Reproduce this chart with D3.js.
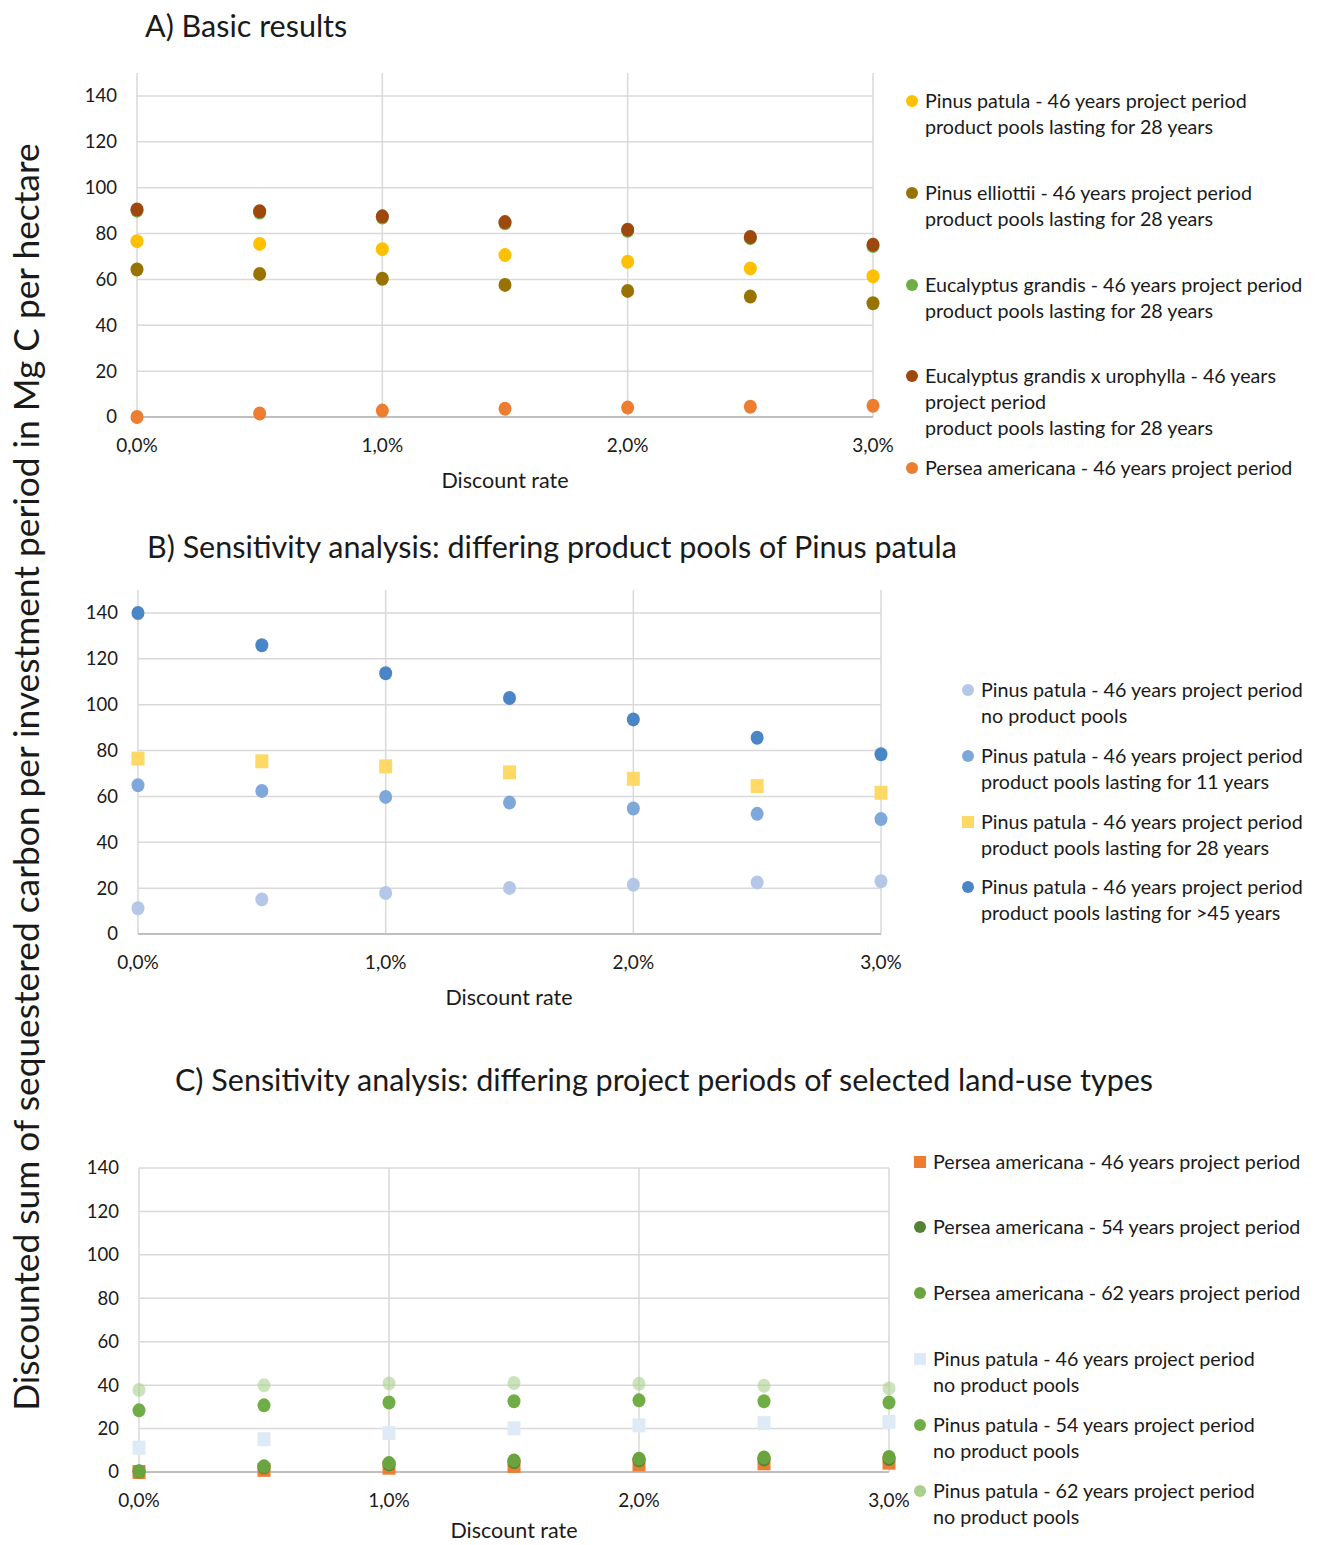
<!DOCTYPE html>
<html><head><meta charset="utf-8">
<script src="https://cdn.jsdelivr.net/npm/d3@7"></script>
<style>
body{margin:0;background:#fff;}
svg text{font-family:Lato,"Open Sans",sans-serif;fill:#1a1a1a;}
</style></head>
<body><svg id="c" width="1317" height="1545"></svg>
<script>
// ---------- DATA ----------
const rates = [0, 0.5, 1, 1.5, 2, 2.5, 3];
const xTicks = [0, 1, 2, 3];
const yTicks = [0, 20, 40, 60, 80, 100, 120, 140];

// Panel A
const aPinusPatula28   = [76.7, 75.5, 73.2, 70.6, 67.7, 64.8, 61.4];
const aPinusElliottii  = [64.3, 62.4, 60.3, 57.6, 55.0, 52.5, 49.6];
const aEucGrandis      = [90.0, 89.2, 87.0, 84.5, 81.2, 78.0, 74.6];
const aEucGrandisUro   = [90.5, 89.7, 87.5, 85.0, 81.7, 78.5, 75.1];
const aPersea46        = [0.0, 1.5, 2.8, 3.6, 4.1, 4.5, 4.9];

// Panel B
const bNoPools   = [11.2, 15.1, 17.9, 20.1, 21.5, 22.5, 23.0];
const bPools11   = [64.9, 62.4, 59.8, 57.3, 54.7, 52.4, 50.1];
const bPools28   = [76.5, 75.3, 73.1, 70.5, 67.7, 64.5, 61.6];
const bPools45   = [140.0, 125.9, 113.7, 102.9, 93.6, 85.6, 78.4];

// Panel C
const cPersea46  = [0.0, 1.0, 2.0, 2.8, 3.5, 4.0, 4.3];
const cPersea54  = [0.2, 2.2, 3.6, 4.6, 5.4, 5.8, 6.0];
const cPersea62  = [0.3, 2.6, 4.1, 5.3, 6.1, 6.7, 6.9];
const cPinus46   = [11.2, 15.1, 17.9, 20.1, 21.5, 22.5, 23.0];
const cPinus54   = [28.4, 30.7, 32.0, 32.6, 33.0, 32.6, 32.0];
const cPinus62   = [37.8, 39.9, 40.8, 41.0, 40.6, 39.7, 38.5];

const titles = [
  "A) Basic results",
  "B) Sensitivity analysis: differing product pools of Pinus patula",
  "C) Sensitivity analysis: differing project periods of selected land-use types"
];
const xLabel = "Discount rate";
const yLabel = "Discounted sum of sequestered carbon per investment period in Mg C per hectare";

const seriesA = [
  {name:["Pinus patula - 46 years project period","product pools lasting for 28 years"], values:aPinusPatula28, color:"#ffc000", shape:"circle"},
  {name:["Pinus elliottii - 46 years project period","product pools lasting for 28 years"], values:aPinusElliottii, color:"#997300", shape:"circle"},
  {name:["Eucalyptus grandis - 46 years project period","product pools lasting for 28 years"], values:aEucGrandis, color:"#70ad47", shape:"circle"},
  {name:["Eucalyptus grandis x urophylla - 46 years","project period","product pools lasting for 28 years"], values:aEucGrandisUro, color:"#9e480e", shape:"circle"},
  {name:["Persea americana - 46 years project period"], values:aPersea46, color:"#ed7d31", shape:"circle"}
];
const seriesB = [
  {name:["Pinus patula - 46 years project period","no product pools"], values:bNoPools, color:"#b4c7e7", shape:"circle"},
  {name:["Pinus patula - 46 years project period","product pools lasting for 11 years"], values:bPools11, color:"#7fa8da", shape:"circle"},
  {name:["Pinus patula - 46 years project period","product pools lasting for 28 years"], values:bPools28, color:"#ffd966", shape:"square"},
  {name:["Pinus patula - 46 years project period","product pools lasting for >45 years"], values:bPools45, color:"#4a86c5", shape:"circle"}
];
const seriesC = [
  {name:["Persea americana - 46 years project period"], values:cPersea46, color:"#ed7d31", shape:"square"},
  {name:["Persea americana - 54 years project period"], values:cPersea54, color:"#548235", shape:"circle"},
  {name:["Persea americana - 62 years project period"], values:cPersea62, color:"#6aa43f", shape:"circle"},
  {name:["Pinus patula - 46 years project period","no product pools"], values:cPinus46, color:"#deebf7", shape:"square"},
  {name:["Pinus patula - 54 years project period","no product pools"], values:cPinus54, color:"#70ad47", shape:"circle"},
  {name:["Pinus patula - 62 years project period","no product pools"], values:cPinus62, color:"#a9d08e", shape:"circle", plotOpacity:0.6}
];

// ---------- DRAW ----------
const svg = d3.select("#c");
const fmt = d => d.toFixed(1).replace(".", ",") + "%";

function panel(cfg){
  const x = d3.scaleLinear().domain([0,3]).range([cfg.x0, cfg.x1]);
  const y = d3.scaleLinear().domain([0,cfg.yMax]).range([cfg.y0, cfg.yTop]);
  const g = svg.append("g");
  g.selectAll(".hg").data(yTicks.filter(t=>t>0)).join("line")
    .attr("x1",cfg.x0).attr("x2",cfg.x1).attr("y1",d=>y(d)).attr("y2",d=>y(d))
    .attr("stroke","#d9d9d9").attr("stroke-width",1.5);
  g.selectAll(".vg").data(xTicks).join("line")
    .attr("x1",d=>x(d)).attr("x2",d=>x(d)).attr("y1",cfg.y0).attr("y2",cfg.yTop)
    .attr("stroke","#d9d9d9").attr("stroke-width",1.5);
  g.append("line").attr("x1",cfg.x0).attr("x2",cfg.x1).attr("y1",y(0)).attr("y2",y(0))
    .attr("stroke","#bfbfbf").attr("stroke-width",2);
  g.selectAll(".yl").data(yTicks).join("text")
    .attr("x",cfg.x0-20).attr("y",d=>y(d)).attr("dy","0.35em")
    .attr("text-anchor","end").attr("font-size",18.5).text(d=>d);
  g.selectAll(".xl").data(xTicks).join("text")
    .attr("x",d=>x(d)).attr("y",y(0)+28).attr("dy","0.35em")
    .attr("text-anchor","middle").attr("font-size",19).text(fmt);
  g.append("text").attr("x",cfg.xLabelX).attr("y",y(0)+cfg.xLabelOff).attr("dy","0.35em")
    .attr("text-anchor","middle").attr("font-size",21.5).text(xLabel);
  g.append("text").attr("x",cfg.titleX).attr("y",cfg.titleY).attr("dy","0.35em")
    .attr("font-size",cfg.titleSize).text(cfg.title);
  cfg.series.forEach(s=>{
    const pts = rates.map((r,i)=>({r, v:s.values[i]}));
    const op = s.plotOpacity || 1;
    if(s.shape==="circle"){
      g.selectAll(null).data(pts).join("ellipse")
        .attr("cx",d=>x(d.r)).attr("cy",d=>y(d.v)).attr("rx",6.5).attr("ry",7)
        .attr("fill",s.color).attr("fill-opacity",op);
    } else {
      g.selectAll(null).data(pts).join("rect")
        .attr("x",d=>x(d.r)-6.5).attr("y",d=>y(d.v)-7).attr("width",13).attr("height",14)
        .attr("fill",s.color).attr("fill-opacity",op);
    }
  });
  const lg = g.append("g");
  cfg.series.forEach((s,i)=>{
    const ly = cfg.legendY[i];
    if(s.shape==="circle"){
      lg.append("circle").attr("cx",cfg.legendX).attr("cy",ly).attr("r",6).attr("fill",s.color);
    } else {
      lg.append("rect").attr("x",cfg.legendX-6).attr("y",ly-6).attr("width",12).attr("height",12).attr("fill",s.color);
    }
    const t = lg.append("text").attr("x",cfg.legendX+13).attr("y",ly).attr("font-size",cfg.legendSize);
    s.name.forEach((line,j)=>{
      t.append("tspan").attr("x",cfg.legendX+13).attr("y",ly+j*26).attr("dy","0.35em").text(line);
    });
  });
}

panel({title:titles[0], titleX:145, titleY:26, titleSize:30.5,
  x0:137, x1:873, y0:417, yTop:417-150*2.293, yMax:150, xLabelX:505, xLabelOff:63,
  series:seriesA, legendX:912, legendY:[101,193,285,376,468], legendSize:19.7});
panel({title:titles[1], titleX:147, titleY:547, titleSize:30.5,
  x0:138, x1:881, y0:934, yTop:934-150*2.293, yMax:150, xLabelX:509, xLabelOff:63,
  series:seriesB, legendX:968, legendY:[690,756,822,887], legendSize:19.7});
panel({title:titles[2], titleX:175, titleY:1080, titleSize:30.5,
  x0:139, x1:889, y0:1472, yTop:1168, yMax:140, xLabelX:514, xLabelOff:58,
  series:seriesC, legendX:920, legendY:[1162,1227,1293,1359,1425,1491], legendSize:19.7});

svg.append("text").attr("transform","translate(27,777) rotate(-90)")
  .attr("text-anchor","middle").attr("dy","0.35em").attr("font-size",35.3).text(yLabel);
</script></body></html>
